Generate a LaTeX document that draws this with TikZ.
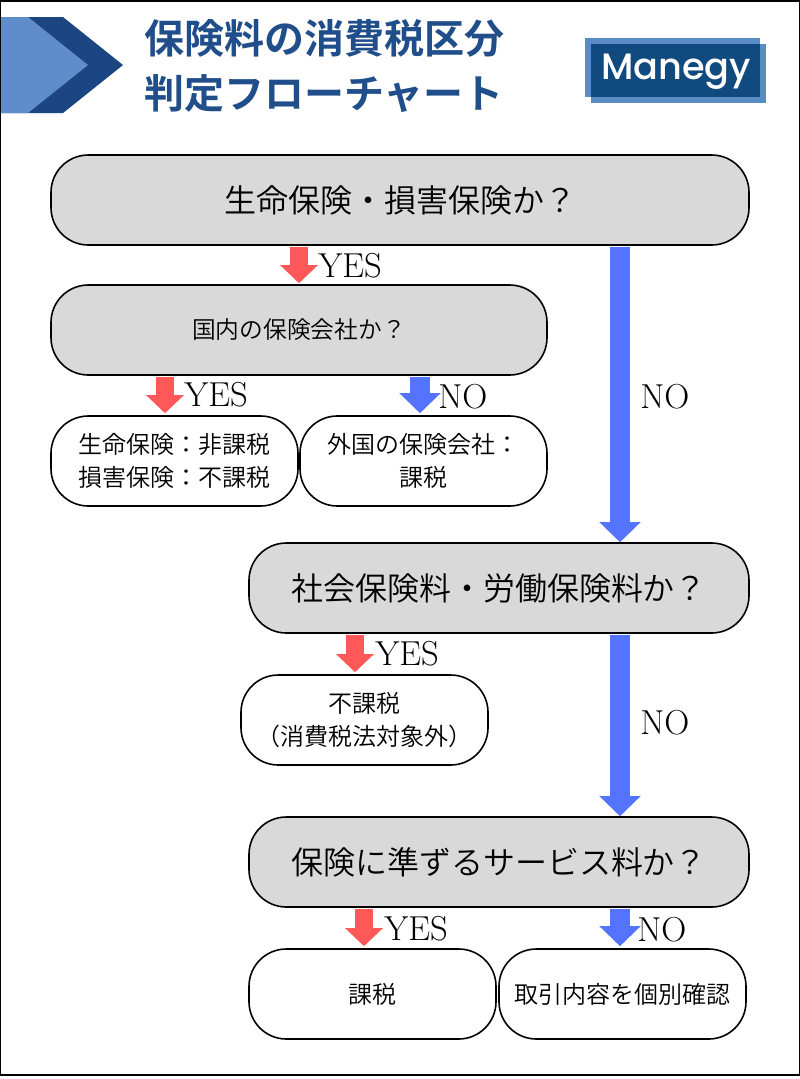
\documentclass[tikz,border=0pt]{standalone}
\usepackage{fontspec}
\usetikzlibrary{arrows.meta}
\newfontfamily\jp{Noto Sans CJK JP DemiLight}
\newfontfamily\jpb{Noto Sans CJK JP Bold}
\newfontfamily\logofont{Poppins Medium}
\definecolor{titleblue}{HTML}{1F4E8A}
\definecolor{chevdark}{HTML}{1C4682}
\definecolor{chevlight}{HTML}{5F8CCB}
\definecolor{logolight}{HTML}{5A8BC4}
\definecolor{logodark}{HTML}{114A7F}
\definecolor{boxgray}{HTML}{D9D9D9}
\definecolor{yesred}{HTML}{FF5858}
\definecolor{noblue}{HTML}{5474FF}
\tikzset{
  decision/.style={draw=black,line width=1.2pt,fill=boxgray,rounded corners=28pt,inner sep=0pt,font=\jp},
  result/.style={draw=black,line width=1.2pt,fill=white,rounded corners=28pt,inner sep=0pt,align=center,font=\jp\fontsize{18}{24.75}\selectfont},
  redarrow/.style={draw=yesred,line width=13.5pt,-{Triangle[length=13.5pt,width=27.5pt]},shorten <=0.9pt},
  bluearrow/.style={draw=noblue,line width=15pt,-{Triangle[length=15pt,width=30pt]},shorten <=0.9pt},
  answer/.style={anchor=west,inner sep=0pt,font=\fontsize{26}{28}\selectfont},
  titletext/.style={anchor=west,inner sep=0pt,text=titleblue,font=\jpb\fontsize{30}{34}\selectfont},
}
\begin{document}
\begin{tikzpicture}[x=0.75pt,y=-0.75pt]
\useasboundingbox (0,0) rectangle (800,1079);
\fill[white] (0,0) rectangle (800,1079);
\draw[black,line width=0.9pt] (0.5,1) rectangle (799.5,1075);
% header chevron
\fill[chevdark] (1,17) -- (63,17) -- (123,65) -- (63,113) -- (1,113) -- cycle;
\fill[chevlight] (1,17) -- (28,17) -- (88,65) -- (28,113) -- (1,113) -- cycle;
\node[titletext] (t1) at (144,38) {保険料の消費税区分};
\node[titletext] (t2) at (144,94) {判定フローチャート};
% logo
\fill[logolight] (585,38) rectangle (760,97);
\fill[logolight] (591,44) rectangle (766,103);
\fill[logodark] (591,44) rectangle (760,97);
\node[text=white,inner sep=0pt,font=\logofont\fontsize{27.5}{32}\selectfont] (logo) at (676,72) {Manegy};
% boxes
\node[decision,minimum width=523.5pt,minimum height=67.5pt,font=\jp\fontsize{24}{28}\selectfont] (A) at (400,200) {生命保険・損害保険か？};
\node[decision,minimum width=372pt,minimum height=67.5pt,font=\jp\fontsize{17.8}{22}\selectfont] (B) at (299,330) {国内の保険会社か？};
\node[result,minimum width=185.25pt,minimum height=67.5pt] (C) at (174.5,461) {生命保険：非課税\\損害保険：不課税};
\node[result,minimum width=185.25pt,minimum height=67.5pt] (D) at (423.5,461) {外国の保険会社：\\課税};
\node[decision,minimum width=375pt,minimum height=67.5pt,font=\jp\fontsize{24}{28}\selectfont] (E) at (499,588) {社会保険料・労働保険料か？};
\node[result,minimum width=185.25pt,minimum height=67.5pt] (F) at (364.5,720) {不課税\\（消費税法対象外）};
\node[decision,minimum width=375pt,minimum height=67.5pt,font=\jp\fontsize{24}{28}\selectfont] (G) at (499,862) {保険に準ずるサービス料か？};
\node[result,minimum width=185.25pt,minimum height=67.5pt] (H) at (372.5,994) {課税};
\node[result,minimum width=185.25pt,minimum height=67.5pt] (I) at (622.5,994) {取引内容を個別確認};
% arrow columns
\coordinate (x1) at (299,0);
\coordinate (x2) at (165,0);
\coordinate (x3) at (420,0);
\coordinate (x4) at (620,0);
\coordinate (x5) at (355,0);
\coordinate (x6) at (364,0);
% connectors
\draw[redarrow] (A.south -| x1) -- ([yshift=0.75pt]B.north -| x1);
\draw[redarrow] (B.south -| x2) -- ([yshift=1.5pt]C.north -| x2);
\draw[bluearrow] (B.south -| x3) -- ([yshift=1.5pt]D.north -| x3);
\draw[bluearrow] (A.south -| x4) -- (E.north -| x4);
\draw[redarrow] (E.south -| x5) -- ([yshift=1.5pt]F.north -| x5);
\draw[bluearrow] (E.south -| x4) -- (G.north -| x4);
\draw[redarrow] (G.south -| x6) -- ([yshift=1.5pt]H.north -| x6);
\draw[bluearrow] (G.south -| x4) -- ([yshift=1.5pt]I.north -| x4);
% labels
\node[answer] (l1) at (318,266) {YES};
\node[answer] (l2) at (184,395) {YES};
\node[answer] (l3) at (438,397) {NO};
\node[answer] (l4) at (640,397) {NO};
\node[answer] (l5) at (375,654) {YES};
\node[answer] (l6) at (640,723) {NO};
\node[answer] (l7) at (384,929) {YES};
\node[answer] (l8) at (637,930) {NO};
\end{tikzpicture}
\end{document}
